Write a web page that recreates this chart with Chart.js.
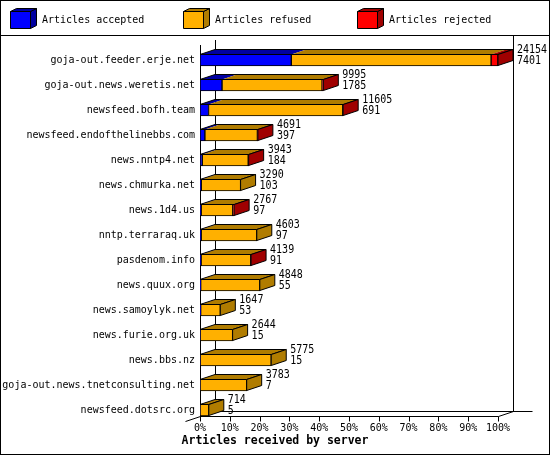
<!DOCTYPE html>
<html>
<head>
<meta charset="utf-8">
<script src="https://cdn.jsdelivr.net/npm/chart.js@4"></script>
<style>
  html, body { margin: 0; padding: 0; background: #fff; }
  canvas { display: block; }
</style>
</head>
<body>
<canvas id="serverChart" width="550" height="455"></canvas>
<script>
'use strict';

// Chart data
const servers = [
  'goja-out.feeder.erje.net',
  'goja-out.news.weretis.net',
  'newsfeed.bofh.team',
  'newsfeed.endofthelinebbs.com',
  'news.nntp4.net',
  'news.chmurka.net',
  'news.1d4.us',
  'nntp.terraraq.uk',
  'pasdenom.info',
  'news.quux.org',
  'news.samoylyk.net',
  'news.furie.org.uk',
  'news.bbs.nz',
  'goja-out.news.tnetconsulting.net',
  'newsfeed.dotsrc.org',
];
const accepted = [7401, 1785, 691, 397, 184, 103, 97, 97, 91, 55, 53, 15, 15, 7, 5];
const refused = [16193, 8110, 10884, 4254, 3724, 3187, 2560, 4506, 4028, 4793, 1594, 2629, 5760, 3776, 709];
const rejected = [560, 100, 30, 40, 35, 0, 110, 0, 20, 0, 0, 0, 0, 0, 0];
const tickPercents = [0, 10, 20, 30, 40, 50, 60, 70, 80, 90, 100];

const seriesLabels = ['Articles accepted', 'Articles refused', 'Articles rejected'];
const frontColors = ['#0000ff', '#ffb000', '#ff0000'];
const darkColors = ['#0000a0', '#b07c00', '#a00000'];

const totals = servers.map((s, i) => accepted[i] + refused[i] + rejected[i]);
const maxTotal = Math.max(...totals);

const DX = 15;
const DY = 5;
const MONO = '"DejaVu Sans Mono", monospace';

function line(ctx, x0, y0, x1, y1) {
  ctx.beginPath();
  ctx.moveTo(x0, y0);
  ctx.lineTo(x1, y1);
  ctx.stroke();
}

function poly(ctx, pts, fill, stroke) {
  ctx.beginPath();
  ctx.moveTo(pts[0][0], pts[0][1]);
  for (let k = 1; k < pts.length; k++) ctx.lineTo(pts[k][0], pts[k][1]);
  ctx.closePath();
  if (fill) {
    ctx.fillStyle = fill;
    ctx.fill();
  }
  if (stroke) {
    ctx.strokeStyle = stroke;
    ctx.stroke();
  }
}

// taller, narrow digits like the original bitmap font
function tallText(ctx, text, x, y) {
  ctx.save();
  ctx.translate(x, y);
  ctx.scale(1, 1.2);
  ctx.fillText(text, 0, 0);
  ctx.restore();
}

// frame, legend, 3D faces and labels
const frame3d = {
  id: 'frame3d',
  beforeDraw(chart) {
    const ctx = chart.ctx;
    ctx.save();
    ctx.fillStyle = '#fff';
    ctx.fillRect(0, 0, chart.width, chart.height);
    ctx.strokeStyle = '#000';
    ctx.lineWidth = 1;
    ctx.strokeRect(0.5, 0.5, chart.width - 1, chart.height - 1);
    line(ctx, 0, 35.5, chart.width, 35.5);

    // legend with little 3D boxes
    const legendX = [10, 183, 357];
    legendX.forEach((lx, d) => {
      poly(ctx, [[lx + 20.5, 11.5], [lx + 26.5, 8.5], [lx + 26.5, 25.5], [lx + 20.5, 28.5]], darkColors[d], '#000');
      poly(ctx, [[lx + 0.5, 11.5], [lx + 6.5, 8.5], [lx + 26.5, 8.5], [lx + 20.5, 11.5]], darkColors[d], '#000');
      poly(ctx, [[lx + 0.5, 11.5], [lx + 20.5, 11.5], [lx + 20.5, 28.5], [lx + 0.5, 28.5]], frontColors[d], '#000');
      ctx.fillStyle = '#000';
      ctx.font = '10px ' + MONO;
      ctx.textBaseline = 'middle';
      ctx.textAlign = 'left';
      ctx.fillText(seriesLabels[d], lx + 32, 20.5);
    });

    // x axis title
    ctx.font = 'bold 11.5px ' + MONO;
    ctx.textAlign = 'center';
    ctx.fillText('Articles received by server', chart.width / 2, 441.5);
    ctx.restore();
  },
  beforeDatasetsDraw(chart) {
    const { ctx, scales: { x, y } } = chart;
    const left = Math.round(x.getPixelForValue(0)) + 0.5;
    const right = Math.round(x.getPixelForValue(maxTotal)) + 0.5;
    const axisTop = Math.round(y.getPixelForValue(0)) - 15;
    const floor = Math.round(y.getPixelForValue(servers.length - 1)) + 6.5;
    ctx.save();
    ctx.strokeStyle = '#000';
    ctx.lineWidth = 1;
    line(ctx, left, axisTop, left, floor);
    line(ctx, left + DX, axisTop - DY, left + DX, floor - DY);
    line(ctx, right + DX, 36, right + DX, floor - DY);
    line(ctx, left + DX, floor - DY, right + DX + 19, floor - DY);
    line(ctx, left + DX, floor - DY, left - DX, floor + DY);
    line(ctx, right + DX, floor - DY, right, floor);
    line(ctx, left, floor, right, floor);
    x.ticks.forEach(t => {
      const px = Math.round(x.getPixelForValue(t.value)) + 0.5;
      line(ctx, px, floor, px, floor + 5);
    });
    ctx.restore();
  },
  afterDatasetsDraw(chart) {
    const ctx = chart.ctx;
    ctx.save();
    ctx.lineWidth = 1;
    for (let i = 0; i < servers.length; i++) {
      const segs = [];
      chart.data.datasets.forEach((ds, d) => {
        const p = chart.getDatasetMeta(d).data[i].getProps(['x', 'base', 'y', 'height'], true);
        if (ds.data[i] > 0) {
          segs.push({ d, x0: Math.min(p.base, p.x), x1: Math.max(p.base, p.x), y: p.y, h: p.height });
        }
      });
      if (!segs.length) continue;
      const top = segs[0].y - segs[0].h / 2 + 0.5;
      const bottom = segs[0].y + segs[0].h / 2 - 0.5;
      const start = segs[0].x0;
      const last = segs[segs.length - 1];
      const end = last.x1;

      segs.forEach(s => {
        poly(ctx, [[s.x0, top], [s.x0 + DX, top - DY], [s.x1 + DX, top - DY], [s.x1, top]], darkColors[s.d], null);
      });
      poly(ctx, [[start, top], [start + DX, top - DY], [end + DX, top - DY], [end, top]], null, '#000');
      poly(ctx, [[end, top], [end + DX, top - DY], [end + DX, bottom - DY], [end, bottom]], darkColors[last.d], '#000');

      ctx.fillStyle = '#000';
      ctx.font = '10px ' + MONO;
      ctx.textAlign = 'left';
      ctx.textBaseline = 'middle';
      const lx = end + DX + 4;
      tallText(ctx, String(totals[i]), lx, segs[0].y - 10);
      tallText(ctx, String(accepted[i]), lx, segs[0].y + 1);
    }
    ctx.restore();
  },
};

const serverData = {
  labels: servers,
  datasets: [
    { label: seriesLabels[0], data: accepted },
    { label: seriesLabels[1], data: refused },
    { label: seriesLabels[2], data: rejected },
  ].map((ds, d) => Object.assign(ds, {
    backgroundColor: frontColors[d],
    borderColor: '#000',
    borderWidth: 1,
    borderSkipped: false,
    barThickness: 12,
  })),
};

const serverConfig = {
  type: 'bar',
  data: serverData,
  options: {
    indexAxis: 'y',
    responsive: false,
    animation: false,
    devicePixelRatio: 1,
    layout: { padding: { top: 47.5, left: 0, right: 52, bottom: 0 } },
    plugins: {
      legend: { display: false },
      tooltip: { enabled: false },
    },
    scales: {
      x: {
        type: 'linear',
        stacked: true,
        min: 0,
        max: maxTotal,
        grid: { display: false, drawTicks: false, tickLength: 0 },
        border: { display: false },
        afterBuildTicks: axis => {
          axis.ticks = tickPercents.map(p => ({ value: p * maxTotal / 100 }));
        },
        afterFit: axis => { axis.height = 32.5; },
        ticks: {
          autoSkip: false,
          maxRotation: 0,
          padding: 0,
          color: '#000',
          font: { family: MONO, size: 10 },
          callback: (value, index) => tickPercents[index] + '%',
        },
      },
      y: {
        stacked: true,
        grid: { display: false, drawTicks: false, tickLength: 0 },
        border: { display: false },
        afterFit: axis => { axis.width = 200; },
        ticks: {
          autoSkip: false,
          padding: 5,
          color: '#000',
          font: { family: MONO, size: 10 },
        },
      },
    },
  },
  plugins: [frame3d],
};

const serverChart = new Chart(
  document.getElementById('serverChart'),
  serverConfig
);
</script>
</body>
</html>
